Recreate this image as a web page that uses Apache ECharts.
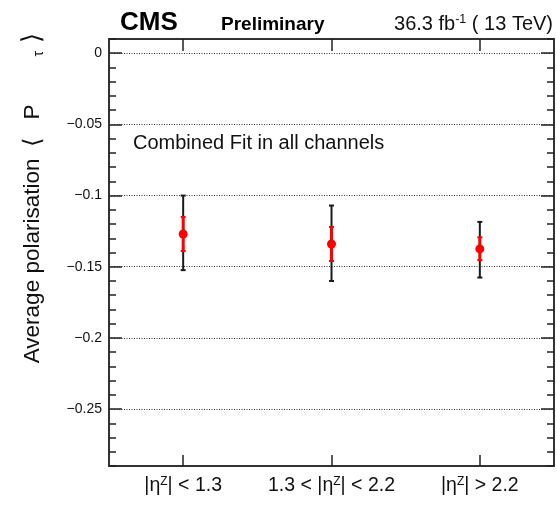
<!DOCTYPE html>
<html>
<head>
<meta charset="utf-8">
<script src="https://cdn.jsdelivr.net/npm/echarts@6/dist/echarts.min.js"></script>
<style>
html,body{margin:0;padding:0;background:#fff;}
#chart{width:557px;height:505px;}
</style>
</head>
<body>
<div id="chart"></div>
<script>
// ---- data ----
var categories = ['|η{sup|Z}| < 1.3', '1.3 < |η{sup|Z}| < 2.2', '|η{sup|Z}| > 2.2'];
var centralValues = [-0.127, -0.134, -0.1375];
var statLow  = [-0.139, -0.146, -0.1454];   // red (inner) error bar
var statHigh = [-0.115, -0.122, -0.1293];
var totLow   = [-0.1524, -0.160, -0.1576];  // black (outer) error bar
var totHigh  = [-0.100, -0.107, -0.1185];
var yMajorTicks = [0, -0.05, -0.1, -0.15, -0.2, -0.25];
var yMin = -0.29, yMax = 0.01, yMinorStep = 0.01;

var FONT = '"Liberation Sans", Arial, Helvetica, sans-serif';
var chart = echarts.init(document.getElementById('chart'), null, {renderer: 'canvas'});

var seriesData = categories.map(function (c, i) {
  return [i, centralValues[i], statLow[i], statHigh[i], totLow[i], totHigh[i]];
});

function fmt(v) {
  if (Math.abs(v) < 1e-9) return '0';
  var s = String(+Math.abs(v).toFixed(2));
  return (v < 0 ? '\u2212' : '') + s;
}

function renderItem(params, api) {
  var x = api.value(0);
  var c = api.coord([x, api.value(1)]);
  var sl = api.coord([x, api.value(2)]);
  var sh = api.coord([x, api.value(3)]);
  var tl = api.coord([x, api.value(4)]);
  var th = api.coord([x, api.value(5)]);
  var blk = {stroke: '#1a1a1a', lineWidth: 2};
  var red = {stroke: '#ff0000', lineWidth: 3};
  var redCap = {stroke: '#ff0000', lineWidth: 2};
  return {
    type: 'group',
    children: [
      {type: 'line', shape: {x1: c[0], y1: tl[1], x2: c[0], y2: th[1]}, style: blk},
      {type: 'line', shape: {x1: c[0] - 2.5, y1: tl[1], x2: c[0] + 2.5, y2: tl[1]}, style: blk},
      {type: 'line', shape: {x1: c[0] - 2.5, y1: th[1], x2: c[0] + 2.5, y2: th[1]}, style: blk},
      {type: 'line', shape: {x1: c[0], y1: sl[1], x2: c[0], y2: sh[1]}, style: red},
      {type: 'line', shape: {x1: c[0] - 2.5, y1: sl[1], x2: c[0] + 2.5, y2: sl[1]}, style: redCap},
      {type: 'line', shape: {x1: c[0] - 2.5, y1: sh[1], x2: c[0] + 2.5, y2: sh[1]}, style: redCap},
      {type: 'circle', shape: {cx: c[0], cy: c[1], r: 4.5}, style: {fill: '#ff0000'}}
    ]
  };
}

var axisLineStyle = {color: '#333', width: 2};
var tickStyle = {color: '#222', width: 1.5};

function yAxisMinor(pos) {
  return {
    type: 'value', position: pos, min: yMin, max: yMax, interval: yMinorStep,
    axisLine: {show: true, onZero: false, lineStyle: axisLineStyle},
    axisTick: {show: true, inside: true, length: 7, lineStyle: tickStyle},
    axisLabel: {show: false}, splitLine: {show: false}
  };
}
function yAxisMajor(pos, withLabels) {
  return {
    type: 'value', position: pos, min: yMin, max: yMax,
    axisLine: {show: false},
    axisTick: {show: true, inside: true, length: 13, lineStyle: tickStyle, customValues: yMajorTicks},
    axisLabel: {show: withLabels, customValues: yMajorTicks, formatter: fmt, margin: 7,
                fontFamily: FONT, fontSize: 14, color: '#111'},
    splitLine: {show: withLabels, lineStyle: {color: '#333', width: 1, type: [1, 1.5]}}
  };
}

var richLabel = {
  sup: {fontSize: 12, verticalAlign: 'top', padding: [0, 0, 8, 0], fontFamily: FONT, color: '#111'}
};

var option = {
  animation: false,
  backgroundColor: '#fff',
  grid: {left: 109, right: 3, top: 39, bottom: 39, containLabel: false},
  xAxis: [
    {
      type: 'category', position: 'bottom', data: categories, boundaryGap: true,
      axisLine: {show: true, onZero: false, lineStyle: axisLineStyle},
      axisTick: {show: true, inside: true, alignWithLabel: true, length: 11, lineStyle: tickStyle},
      axisLabel: {interval: 0, hideOverlap: false, fontFamily: FONT, fontSize: 19.5, color: '#111', margin: 10,
                  formatter: function (v) { return v; }, rich: richLabel},
      splitLine: {show: false}
    },
    {
      type: 'category', position: 'top', data: categories, boundaryGap: true,
      axisLine: {show: true, onZero: false, lineStyle: axisLineStyle},
      axisTick: {show: true, inside: true, alignWithLabel: true, length: 12, lineStyle: tickStyle},
      axisLabel: {show: false}, splitLine: {show: false}
    }
  ],
  yAxis: [
    yAxisMinor('left'),
    yAxisMajor('left', true),
    yAxisMinor('right'),
    yAxisMajor('right', false)
  ],
  series: [{
    type: 'custom', xAxisIndex: 0, yAxisIndex: 1,
    renderItem: renderItem, data: seriesData, z: 10,
    encode: {x: 0, y: [1, 2, 3, 4, 5]}
  }],
  graphic: [
    {type: 'text', x: 120, y: 22.5, style: {text: 'CMS', font: 'bold 26px ' + FONT, fill: '#000', verticalAlign: 'middle'}},
    {type: 'text', x: 221, y: 24.8, style: {text: 'Preliminary', font: 'bold 19px ' + FONT, fill: '#000', verticalAlign: 'middle'}},
    {type: 'text', x: 553, y: 24.3,
      style: {text: '36.3 fb{sup|-1} ( 13 TeV)', font: '20px ' + FONT, fill: '#111', align: 'right', verticalAlign: 'middle',
        rich: {sup: {fontSize: 12.5, fontFamily: FONT, fill: '#111', verticalAlign: 'top', padding: [0, 0, 9, 0]}}}},
    {type: 'text', x: 133, y: 143, style: {text: 'Combined Fit in all channels', font: '20px ' + FONT, fill: '#111', verticalAlign: 'middle'}},
    {type: 'text', x: 33, y: 33, rotation: Math.PI / 2,
      style: {text: '{t|Average polarisation}{br|\u27e8}{t|P}{sub|\u03c4}{br2|\u27e9}', font: '22.5px ' + FONT, fill: '#111',
        align: 'right', verticalAlign: 'middle',
        rich: {
          t: {fontSize: 22.5, fontFamily: FONT, fill: '#111'},
          br: {fontSize: 24, fontFamily: FONT, fill: '#111', padding: [0, 18, 0, 12]},
          sub: {fontSize: 14, fontFamily: FONT, fill: '#111', verticalAlign: 'bottom', padding: [8, 0, 0, 48]},
          br2: {fontSize: 26, fontFamily: FONT, fill: '#111', padding: [0, 0, 0, 8]}
        }}}
  ]
};
chart.setOption(option);
</script>
</body>
</html>
